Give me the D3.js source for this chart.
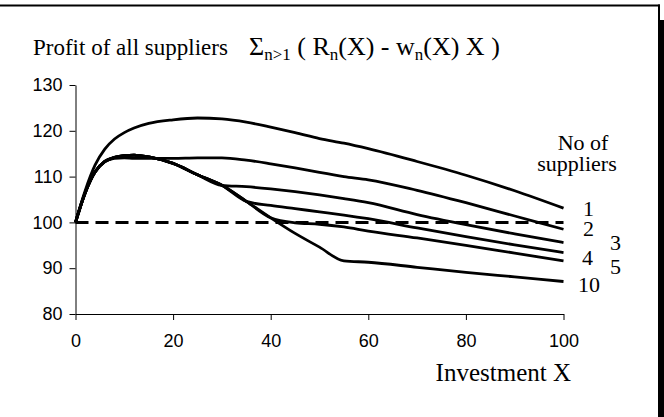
<!DOCTYPE html>
<html>
<head>
<meta charset="utf-8">
<script src="https://cdn.jsdelivr.net/npm/d3@7"></script>
<style>
  body { margin: 0; background: #fff; }
  svg { display: block; }
</style>
</head>
<body>
<div id="chart"></div>
<script>
// data
const xs = [0, 2, 4, 6, 8, 10, 12, 15, 20, 25, 30, 35, 40, 45, 50, 55, 60, 70, 80, 90, 100];
const s1 = [100, 107, 112.5, 116, 118.2, 119.6, 120.6, 121.6, 122.4, 122.8, 122.6, 121.9, 120.8, 119.6, 118.3, 117.3, 116.1, 113.3, 110.3, 106.9, 103.1];
const s2 = [100, 106.5, 111, 113.2, 114, 114.1, 114, 114, 114, 114.1, 114.1, 113.6, 112.8, 111.9, 110.9, 110.0, 109.3, 107.0, 104.3, 101.4, 98.5];
const s3 = [100, 106.5, 111, 113.3, 114.2, 114.6, 114.7, 114.3, 112.9, 110.4, 108.1, 107.8, 107.3, 106.7, 106.0, 105.2, 104.3, 101.7, 99.5, 97.5, 95.6];
const s4 = [100, 106.5, 111, 113.3, 114.2, 114.6, 114.7, 114.3, 112.9, 110.4, 108.1, 104.6, 103.7, 103.0, 102.3, 101.6, 100.8, 98.8, 96.9, 95.1, 93.4];
const s5 = [100, 106.5, 111, 113.3, 114.2, 114.6, 114.7, 114.3, 112.9, 110.4, 108.1, 104.6, 101.0, 99.9, 99.6, 99.0, 98.1, 96.6, 95.0, 93.3, 91.6];
const s10 = [100, 106.5, 111, 113.3, 114.2, 114.6, 114.7, 114.3, 112.9, 110.4, 108.1, 104.6, 101.0, 97.6, 94.6, 91.6, 91.3, 90.2, 89.1, 88.1, 87.1];
const allSeries = [s1, s2, s3, s4, s5, s10];
const baseLine = 100;

const yTicks = [80, 90, 100, 110, 120, 130];
const xTicks = [0, 20, 40, 60, 80, 100];

// labels at the right end (number of suppliers)
const seriesLabels = ["1", "2", "3", "4", "5", "10"];
const labelPos = [[583, 216], [583, 236], [610, 250], [582, 265], [610, 274], [578, 292]];

const width = 664;
const height = 417;
const serif = "'Liberation Serif', 'Times New Roman', serif";
const sans = "'Liberation Sans', Arial, sans-serif";

const x = d3.scaleLinear().domain([0, 100]).range([75.5, 563.5]);
const y = d3.scaleLinear().domain([80, 130]).range([314, 85]);

const svg = d3.select("#chart").append("svg")
  .attr("width", width)
  .attr("height", height);

svg.append("rect").attr("width", width).attr("height", height).attr("fill", "#fff");

// frame + shadow
svg.append("line").attr("x1", 0).attr("x2", 660).attr("y1", 5.5).attr("y2", 5.5)
  .attr("stroke", "#000").attr("stroke-width", 2);
svg.append("line").attr("x1", 659).attr("x2", 659).attr("y1", 4.5).attr("y2", 20)
  .attr("stroke", "#000").attr("stroke-width", 2);
svg.append("rect").attr("x", 658).attr("y", 20).attr("width", 6).attr("height", height - 20)
  .attr("fill", "#000");

// title
const title = svg.append("text")
  .attr("x", 33).attr("y", 55)
  .attr("font-family", serif).attr("font-size", 23)
  .attr("fill", "#000");
title.append("tspan").text("Profit of all suppliers");
title.append("tspan").attr("x", 249).attr("font-size", 26).text("Σ");
title.append("tspan").attr("dy", 5).attr("font-size", 17).text("n>1");
title.append("tspan").attr("dy", -5).attr("font-size", 26).text(" ( R");
title.append("tspan").attr("dy", 5).attr("font-size", 17).text("n");
title.append("tspan").attr("dy", -5).attr("font-size", 26).text("(X) - w");
title.append("tspan").attr("dy", 5).attr("font-size", 17).text("n");
title.append("tspan").attr("dy", -5).attr("font-size", 26).text("(X) X )");

// axes
const yAxis = svg.append("g")
  .attr("transform", "translate(75.5,0)")
  .call(d3.axisLeft(y).tickValues(yTicks).tickSize(6).tickSizeOuter(0).tickPadding(7));
const xAxis = svg.append("g")
  .attr("transform", "translate(0,314)")
  .call(d3.axisBottom(x).tickValues(xTicks).tickSize(6).tickSizeOuter(0).tickPadding(14));

[yAxis, xAxis].forEach(function(g) {
  g.select(".domain").attr("stroke", "#000");
  g.selectAll(".tick line").attr("stroke", "#000");
  g.selectAll(".tick text")
    .attr("font-family", sans).attr("font-size", 18).attr("fill", "#000");
});

// dashed line at 100
svg.append("line")
  .attr("x1", x(0)).attr("x2", x(100))
  .attr("y1", y(baseLine)).attr("y2", y(baseLine))
  .attr("stroke", "#000").attr("stroke-width", 3)
  .attr("stroke-dasharray", "13,7");

// the curves
const line = d3.line()
  .x((d, i) => x(xs[i]))
  .y(d => y(d))
  .curve(d3.curveMonotoneX);

svg.selectAll(".curve")
  .data(allSeries)
  .enter()
  .append("path")
    .attr("class", "curve")
    .attr("d", line)
    .attr("fill", "none")
    .attr("stroke", "#000")
    .attr("stroke-width", 2.8)
    .attr("stroke-linejoin", "round");

// legend text on the right
svg.append("text").attr("x", 583).attr("y", 150)
  .attr("text-anchor", "middle")
  .attr("font-family", serif).attr("font-size", 22)
  .text("No of");
svg.append("text").attr("x", 577).attr("y", 171)
  .attr("text-anchor", "middle")
  .attr("font-family", serif).attr("font-size", 22)
  .text("suppliers");

svg.selectAll(".lab")
  .data(seriesLabels)
  .enter()
  .append("text")
    .attr("class", "lab")
    .attr("x", (d, i) => labelPos[i][0])
    .attr("y", (d, i) => labelPos[i][1])
    .attr("font-family", serif).attr("font-size", 22)
    .text(d => d);

// x axis title
svg.append("text").attr("x", 571).attr("y", 381)
  .attr("text-anchor", "end")
  .attr("font-family", serif).attr("font-size", 25)
  .text("Investment X");
</script>
</body>
</html>
